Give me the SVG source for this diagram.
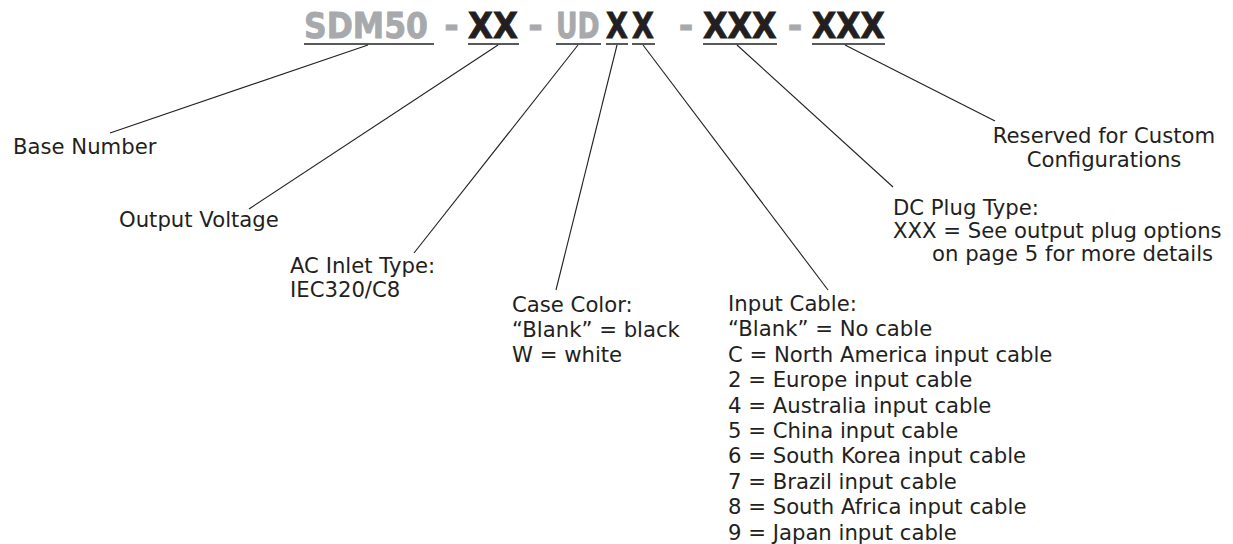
<svg xmlns="http://www.w3.org/2000/svg" width="1233" height="544" viewBox="0 0 1233 544">
<style>
.t{font-family:"DejaVu Sans","Verdana",sans-serif;font-size:21.2px;fill:#231f20}
.h{font-family:"DejaVu Sans",sans-serif;font-weight:bold;font-size:35px;stroke-width:0.9}
.g{fill:#a7a9ac;stroke:#a7a9ac}
.k{fill:#231f20;stroke:#231f20}
.u{stroke:#58595b;stroke-width:2.2;fill:none}
.c{stroke:#231f20;stroke-width:1.1;fill:none}
</style>
<rect width="1233" height="544" fill="#ffffff"/>
<g id="title">
<text class="h g" transform="translate(304 38) scale(0.9 1)">SDM50</text>
<text class="h g" x="451.5" y="38" text-anchor="middle">-</text>
<text class="h k" transform="translate(468 38) scale(0.922 1)">XX</text>
<text class="h g" x="535.5" y="38" text-anchor="middle">-</text>
<text class="h g" transform="translate(556 38) scale(0.76 1)">UD</text>
<text class="h k" transform="translate(606 38) scale(0.81 1)">X</text>
<text class="h k" transform="translate(632 38) scale(0.81 1)">X</text>
<text class="h g" x="686" y="38" text-anchor="middle">-</text>
<text class="h k" transform="translate(703 38) scale(0.91 1)">XXX</text>
<text class="h g" x="795" y="38" text-anchor="middle">-</text>
<text class="h k" transform="translate(812 38) scale(0.9 1)">XXX</text>
<path class="u" d="M304 44H434M468 44H519M556 44H601M606 44H628M632 44H655M703 44H777M812 44H885"/>
</g>
<g id="connectors">
<line class="c" x1="368" y1="45" x2="110" y2="133"/>
<line class="c" x1="498" y1="45" x2="249" y2="209"/>
<line class="c" x1="578" y1="45" x2="414" y2="253"/>
<line class="c" x1="617" y1="45" x2="556" y2="290"/>
<line class="c" x1="643" y1="45" x2="828" y2="290"/>
<line class="c" x1="737" y1="45" x2="893" y2="187"/>
<line class="c" x1="845" y1="45" x2="995" y2="121"/>
</g>
<g id="base-number"><text class="t" x="13" y="154">Base Number</text></g>
<g id="output-voltage"><text class="t" x="119" y="227">Output Voltage</text></g>
<g id="ac-inlet"><text class="t" x="290" y="273">AC Inlet Type:</text><text class="t" x="290" y="297">IEC320/C8</text></g>
<g id="case-color"><text class="t" x="512" y="312">Case Color:</text><text class="t" x="512" y="337">“Blank” = black</text><text class="t" x="512" y="362">W = white</text></g>
<g id="input-cable">
<text class="t" x="728" y="311">Input Cable:</text>
<text class="t" x="728" y="336.4">“Blank” = No cable</text>
<text class="t" x="728" y="361.8">C = North America input cable</text>
<text class="t" x="728" y="387.2">2 = Europe input cable</text>
<text class="t" x="728" y="412.6">4 = Australia input cable</text>
<text class="t" x="728" y="438">5 = China input cable</text>
<text class="t" x="728" y="463.4">6 = South Korea input cable</text>
<text class="t" x="728" y="488.8">7 = Brazil input cable</text>
<text class="t" x="728" y="514.2">8 = South Africa input cable</text>
<text class="t" x="728" y="539.6">9 = Japan input cable</text>
</g>
<g id="dc-plug"><text class="t" x="893" y="215">DC Plug Type:</text><text class="t" x="893" y="238">XXX = See output plug options</text><text class="t" x="932" y="261">on page 5 for more details</text></g>
<g id="reserved"><text class="t" x="1104" y="143" text-anchor="middle">Reserved for Custom</text><text class="t" x="1104" y="167" text-anchor="middle">Configurations</text></g>
</svg>
